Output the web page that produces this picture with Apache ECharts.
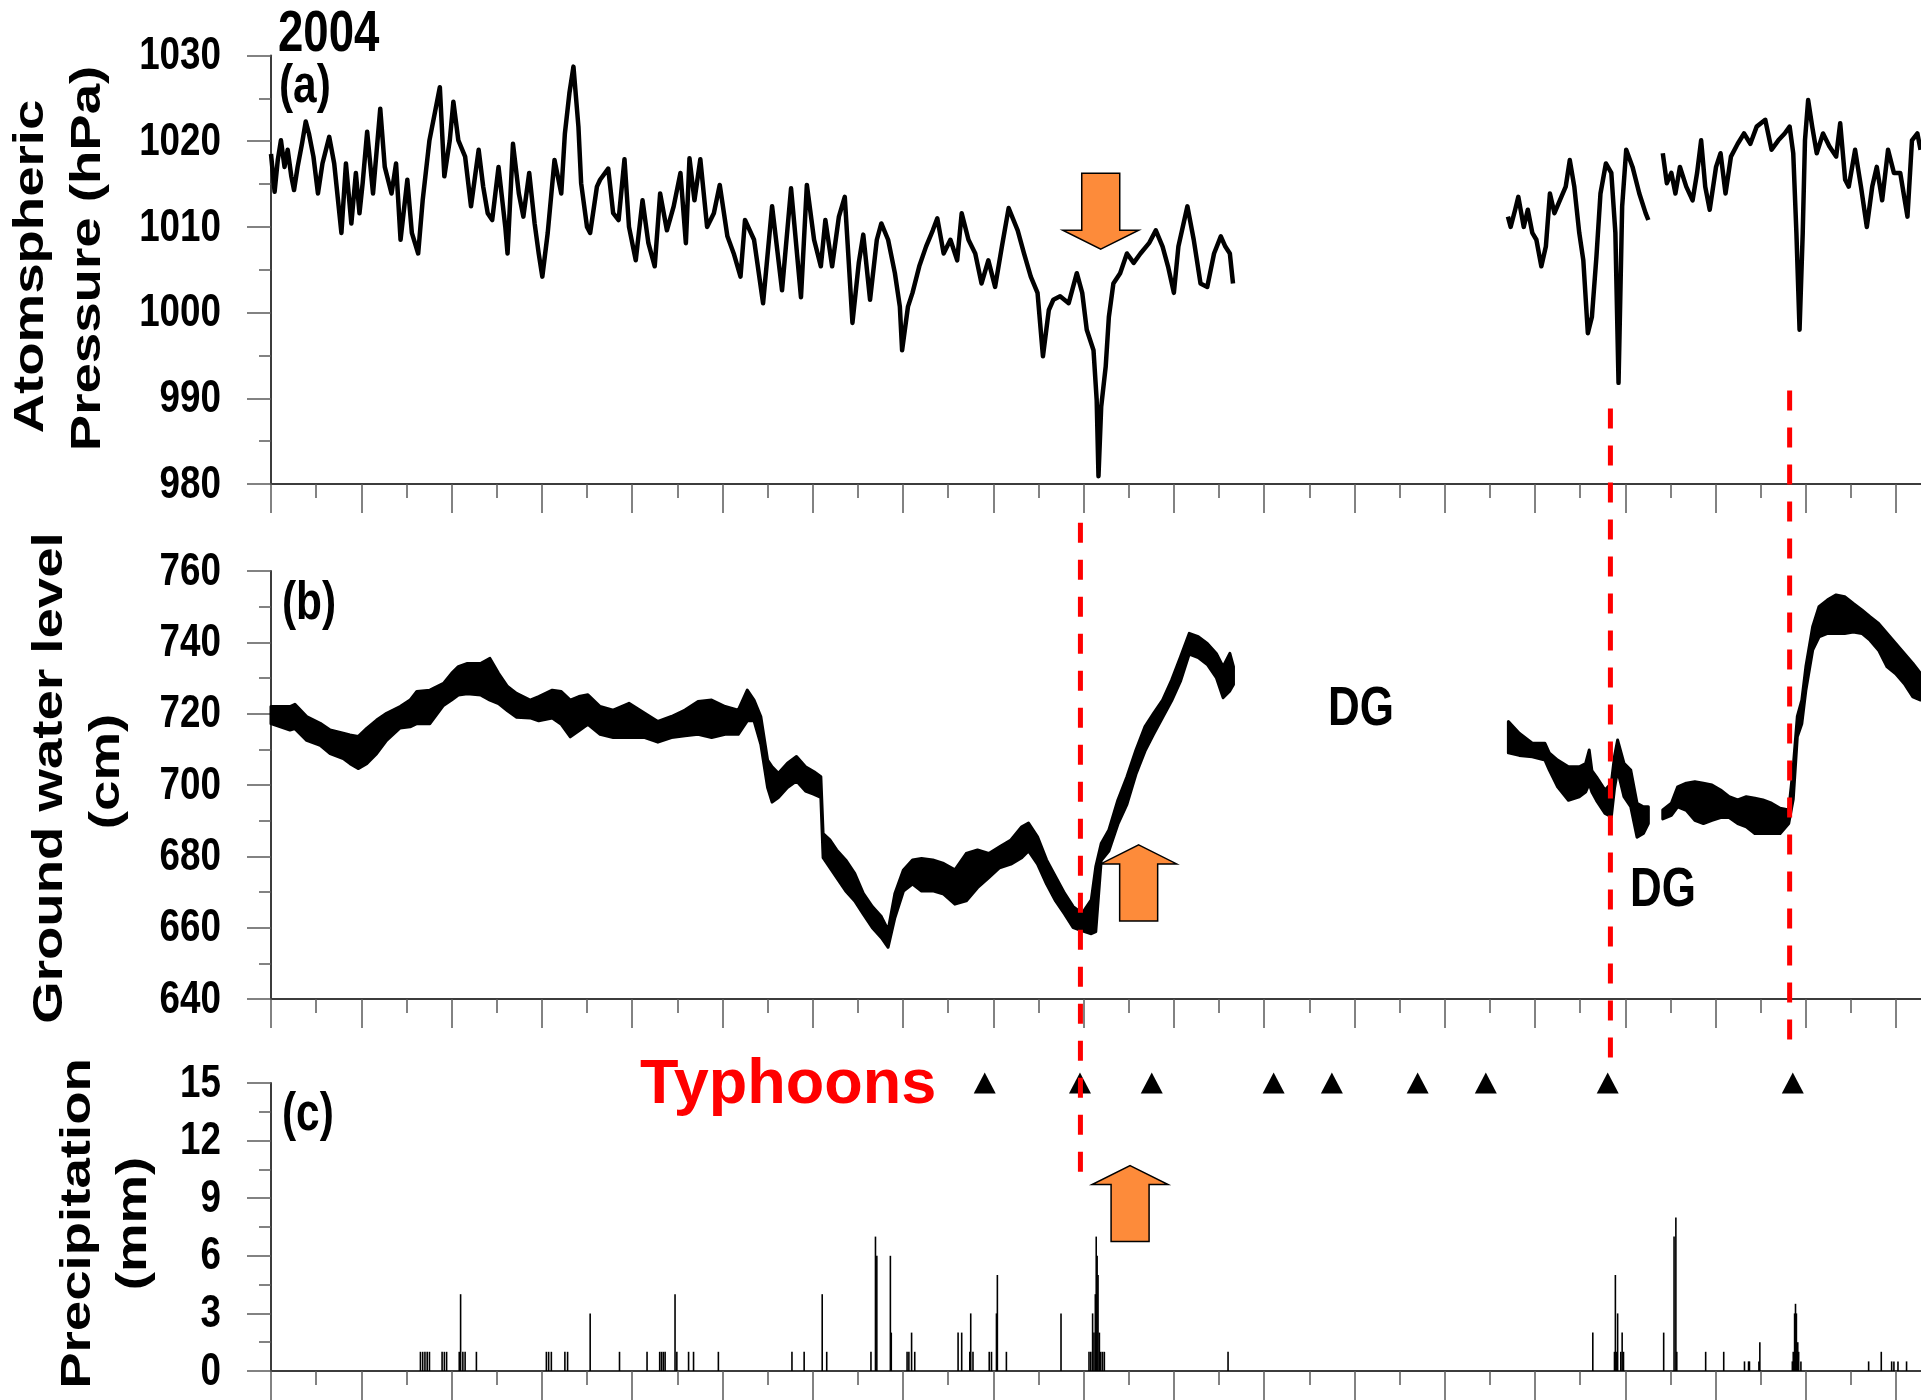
<!DOCTYPE html>
<html>
<head>
<meta charset="utf-8">
<script src="https://cdn.jsdelivr.net/npm/echarts@6/dist/echarts.min.js"></script>
<style>
  html, body { margin: 0; padding: 0; background: #ffffff; }
  #chart { width: 1921px; height: 1400px; }
</style>
</head>
<body>
<div id="chart"></div>
<script>
// ---- Atmospheric pressure (hPa): [day of 2004, value], three recorded stretches ----
const pressureA = [
  [0,1018.5],[0.8,1014.1],[1.5,1017.8],[2.2,1020.1],[3.0,1017.0],[3.7,1019.0],[4.5,1015.9],[5.1,1014.3],
  [5.9,1017.0],[6.9,1019.8],[7.7,1022.3],[8.4,1020.9],[9.4,1018.2],[10.4,1013.9],[11.4,1017.4],[12.9,1020.5],
  [14.0,1017.4],[15.6,1009.3],[16.6,1017.4],[17.8,1010.4],[18.8,1016.3],[19.6,1011.6],[20.3,1015.1],[21.3,1021.1],
  [22.6,1013.9],[24.2,1023.8],[25.2,1017.0],[26.7,1013.9],[27.7,1017.4],[28.7,1008.5],[30.2,1015.5],[31.2,1009.3],
  [32.6,1006.9],[33.6,1013.1],[35.1,1020.1],[36.4,1023.6],[37.4,1026.3],[38.4,1015.9],[39.6,1020.1],[40.4,1024.6],
  [41.5,1020.1],[43.0,1018.2],[44.3,1012.4],[46.0,1019.0],[47.0,1014.7],[48.0,1011.6],[49.0,1010.8],[50.4,1017.0],
  [51.9,1010.0],[52.4,1006.9],[53.6,1019.7],[54.9,1013.9],[55.9,1011.2],[57.2,1016.3],[58.4,1010.4],[59.3,1006.9],
  [60.1,1004.2],[61.3,1009.3],[62.8,1017.8],[64.3,1013.9],[65.1,1020.9],[66.1,1025.6],[67.0,1028.7],[68.1,1021.7],
  [68.7,1015.1],[70.0,1010.0],[70.7,1009.3],[72.2,1014.7],
  [72.9,1015.5],[74.7,1016.8],[75.8,1011.6],[77.0,1010.8],[78.3,1017.9],[79.3,1010.0],[80.8,1006.1],[82.3,1013.1],
  [83.6,1008.1],[85.0,1005.4],[86.2,1013.9],[87.7,1009.6],[89.2,1012.4],[90.7,1016.3],[91.9,1008.1],[92.7,1018.0],
  [93.8,1013.1],[95.1,1017.9],[96.6,1010.0],[98.1,1011.6],[99.4,1014.9],[101.1,1008.9],[102.5,1006.9],[104.0,1004.2],
  [105.0,1010.8],[107.0,1008.5],[109.0,1001.1],[111.0,1012.4],[113.2,1002.6],[115.2,1014.5],[117.4,1001.8],[118.7,1014.9],
  [120.3,1008.5],[121.8,1005.4],[122.8,1010.8],[124.3,1005.4],[125.8,1011.2],[127.1,1013.5],[128.8,998.8],[130.2,1005.8],
  [131.2,1009.1],[132.7,1001.5],[134.2,1008.5],[135.2,1010.4],[136.7,1008.5],[138.2,1004.6],[139.3,1000.7],[139.8,995.6],
  [141.1,1000.7],[142.1,1002.3],[143.6,1005.4],[145.1,1007.7],[146.6,1009.6],[147.6,1011.0],[149.0,1006.9],[150.5,1008.5],
  [152.0,1006.1],[153.0,1011.6],[154.5,1008.5],[156.0,1006.9],[157.4,1003.4],[158.9,1006.1],[160.4,1003.0],[161.9,1007.7],
  [163.4,1012.2],[165.4,1009.6],[166.8,1006.9],[168.3,1004.2],[169.8,1002.3],[171.0,994.9],[172.3,1000.3],[173.3,1001.5],
  [174.8,1001.9],[176.7,1001.1],[178.5,1004.6],[179.7,1002.3],[180.7,998.0],[182.2,995.6],[182.9,989.8],[183.3,980.9],
  [183.9,989.0],[184.9,993.7],[185.6,999.5],[186.6,1003.4],[188.1,1004.6],[189.6,1006.9],[191.1,1005.8],[192.6,1006.9],
  [194.5,1008.1],[196.0,1009.6],[197.5,1007.7],[198.7,1005.4],[200.0,1002.3],[201.0,1007.7],[203.0,1012.4],[204.4,1008.5],
  [205.9,1003.4],[207.4,1003.0],[208.9,1006.9],[210.4,1008.9],[211.4,1007.7],[212.4,1006.9],[213.1,1003.4]
];
const pressureB = [
  [274.0,1011.2],[274.6,1010.0],[275.6,1012.0],[276.3,1013.5],[277.5,1010.0],[278.4,1012.0],[279.4,1009.3],[280.3,1008.5],
  [281.4,1005.4],[282.4,1007.7],[283.3,1013.9],[284.3,1011.6],[285.5,1013.1],[286.8,1014.7],[287.7,1017.8],[288.7,1014.7],
  [289.8,1009.3],[290.7,1006.1],[291.7,997.6],[292.6,999.5],[293.6,1006.5],[294.5,1013.9],[295.7,1017.4],[296.9,1016.3],
  [297.8,1009.3],[298.5,991.8],[299.3,1012.4],[300.2,1019.0],[301.6,1017.0],[303.1,1013.9],[304.5,1011.6],[305.1,1010.8]
];
const pressureC = [
  [308.3,1018.6],[309.2,1015.1],[310.2,1016.3],[311.1,1013.9],[312.1,1017.0],[313.5,1014.7],[314.9,1013.1],[315.9,1016.3],
  [316.8,1020.1],[317.7,1014.7],[318.7,1012.0],[320.1,1017.0],[321.1,1018.6],[322.2,1013.9],[323.4,1018.2],[324.9,1019.7],
  [326.3,1020.9],[327.7,1019.7],[329.1,1021.7],[331.0,1022.5],[332.4,1019.0],[333.9,1020.1],[335.3,1020.9],[336.4,1021.7],
  [337.2,1018.6],[337.9,1009.3],[338.6,998.0],[339.3,1009.3],[339.8,1020.1],[340.5,1024.8],[341.4,1021.7],[342.4,1018.6],
  [343.8,1020.9],[345.2,1019.4],[346.7,1018.2],[347.6,1022.1],[348.7,1015.5],[349.5,1014.7],[350.9,1019.0],[352.2,1014.7],
  [353.5,1010.0],[354.7,1014.7],[355.7,1017.0],[356.9,1013.1],[358.2,1019.0],[359.5,1016.3],[360.9,1016.3],[362.5,1011.2],
  [363.5,1020.1],[364.7,1020.9],[365.4,1019.0]
];

// ---- Ground water level (cm): [day, upper edge of daily swing, lower edge of daily swing] ----
const groundwaterA = [
  [0,722.0,717.2],[4.2,722.0,715.4],[5.3,722.6,715.8],[7.9,719.2,712.5],[10.9,717.3,711.1],[13.1,715.4,708.8],
  [16.0,714.5,707.4],[17.5,714.0,706.0],[19.3,713.6,704.6],[21.2,715.9,706.0],[23.4,718.2,708.8],[25.6,720.1,712.5],
  [28.6,722.0,716.0],[30.8,723.8,716.3],[32.3,726.2,717.2],[35.2,726.6,717.2],[38.2,728.5,722.3],[40.0,731.3,723.8],
  [41.5,733.2,725.2],[43.5,734.1,725.6],[46.5,734.1,725.2],[48.5,735.5,723.8],[50.4,731.3,722.8],[52.4,727.6,720.8],
  [54.4,725.7,719.0],[57.4,723.8,718.8],[59.3,724.8,718.0],[62.3,726.6,718.8],[64.3,726.2,717.0],[66.3,723.8,713.5],
  [68.2,724.8,715.2],[70.2,725.3,717.0],[72.9,722.0,714.2],[75.8,721.0,713.3],[79.3,722.9,713.3],[82.8,720.1,713.3],
  [85.7,717.8,712.0],[88.7,719.2,713.3],[91.7,721.0,713.8],[94.6,723.4,714.2],[97.6,723.8,713.3],[100.6,722.0,714.2],
  [103.5,721.0,714.2],[105.5,726.6,718.0],[107.0,723.8,718.0],[108.5,719.2,711.4],[110.0,707.0,699.3],[111.0,705.1,695.2],
  [112.4,703.3,696.5],[114.4,706.1,699.3],[116.4,708.0,701.1],[118.4,705.1,698.3],[120.3,703.7,697.4],[121.8,702.3,696.5],
  [122.3,686.4,679.6],[123.8,684.6,676.8],[125.3,681.8,674.0],[127.3,679.0,670.3],[129.3,675.2,667.5],[131.2,669.6,663.8],
  [133.2,665.9,660.0],[135.2,663.1,657.2],[136.7,659.3,654.5],[138.2,669.6,662.8],[140.1,676.2,670.3],[142.1,679.0,672.2],
  [144.1,679.4,670.3],[146.6,679.0,670.3],[149.0,678.0,669.4],[151.5,676.2,666.6],[154.0,680.8,667.5],[156.5,681.8,671.2],
  [159.0,680.8,674.0],[161.4,682.7,676.8],[163.9,684.6,677.8],[166.3,688.3,679.6],[167.8,689.3,681.5],[169.8,685.5,677.8],
  [171.8,679.0,672.2],[173.8,674.3,667.5],[175.8,669.6,663.8],[177.7,665.9,660.0],[179.7,664.0,659.1],[181.7,667.8,658.3],
  [182.7,677.1,658.9],[183.9,683.6,678.8],[185.6,687.4,681.5],[187.6,695.8,689.0],[189.6,702.3,694.6],[191.6,709.8,703.0],
  [193.6,716.4,709.5],[195.5,720.1,714.2],[197.5,723.8,718.9],[199.5,729.4,723.6],[201.5,736.0,729.2],[203.4,742.5,736.7],
  [205.4,741.6,735.7],[207.4,739.7,733.8],[209.4,736.9,730.1],[210.9,733.2,724.5],[212.4,736.9,726.4],[213.2,733.2,728.2]
];
const groundwaterB = [
  [274.1,717.8,709.0],[276.5,714.5,708.3],[279.4,711.7,707.9],[282.2,711.7,707.0],[283.2,708.9,704.1],[285.0,707.0,699.5],
  [287.4,705.1,695.7],[289.8,705.1,696.7],[291.2,706.0,698.0],[292.0,709.8,700.4],[292.6,704.0,698.0],[293.6,702.3,695.7],
  [295.5,698.6,692.0],[296.9,700.5,691.1],[297.6,708.0,699.0],[298.3,712.6,704.1],[299.7,706.1,696.7],[301.2,704.2,693.9],
  [302.6,694.9,685.4],[304.0,693.9,686.4],[305.1,693.9,689.2]
];
const groundwaterC = [
  [308.3,693.0,690.5],[310.2,694.9,691.5],[311.6,699.5,693.9],[313.5,700.5,692.9],[315.4,700.9,690.1],[317.3,700.5,689.2],
  [319.2,700.0,690.1],[321.1,698.6,690.9],[323.0,696.7,690.9],[324.9,695.8,689.2],[326.8,696.7,688.3],[328.7,696.3,686.4],
  [330.5,695.8,686.4],[332.4,694.9,686.4],[334.3,693.5,686.4],[336.2,693.0,689.2],[337.2,705.1,696.0],[338.1,719.2,713.5],
  [339.1,723.8,717.2],[340.0,733.2,726.6],[341.5,744.4,737.8],[342.9,750.0,741.5],[344.8,751.9,742.5],[346.7,753.3,742.5],
  [348.6,752.8,742.5],[350.5,750.9,742.9],[352.4,749.1,742.5],[354.2,747.2,740.6],[356.1,745.3,737.8],[358.0,742.5,733.1],
  [359.9,739.7,731.2],[361.8,736.9,728.4],[363.7,734.1,724.7],[365.4,731.3,723.8]
];

// ---- Precipitation (mm): [day, amount] ----
const precipitation = [
  [33.1,1],[33.6,1],[34.1,1],[34.6,1],[35.1,1],[37.9,1],[38.4,1],[38.9,1],[41.7,1],[42.0,4],[42.5,1],[43.0,1],
  [45.5,1],[61.0,1],[61.5,1],[62.1,1],[65.1,1],[65.7,1],[70.7,3],[77.2,1],[83.3,1],[86.1,1],[86.5,1],[86.9,1],
  [87.3,1],[89.5,4],[89.9,1],[92.5,1],[93.6,1],[99.1,1],[115.4,1],[118.1,1],[122.1,4],[123.1,1],[132.9,1],[133.9,7],
  [134.2,6],[137.2,6],[137.4,2],[140.9,1],[141.3,1],[141.9,2],[142.6,1],[152.2,2],[153.0,2],[154.8,1],[155.0,3],
  [155.5,1],[159.1,1],[159.6,1],[160.7,3],[160.9,5],[162.9,1],[175.0,3],[181.2,1],[181.6,1],[182.0,3],[182.3,2],
  [182.6,4],[182.8,7],[183.0,6],[183.2,5],[183.5,2],[183.8,1],[184.2,1],[184.6,1],[212.0,1],[292.8,2],[297.6,1],
  [297.8,5],[298.0,1],[298.3,3],[299.0,1],[299.3,2],[299.6,1],[308.5,2],[310.8,7],[311.2,8],[311.4,1],[317.8,1],
  [321.8,1],[326.4,0.5],[327.3,0.5],[327.5,0.5],[329.6,0.5],[329.8,1.5],[337.0,0.5],[337.2,1],[337.5,3],[337.7,3.5],
  [337.9,3],[338.2,1.5],[338.4,1],[338.9,0.5],[353.9,0.5],[356.7,1],[359.0,0.5],[359.5,0.5],[360.4,0.5],[362.3,0.5]
];

// ---- Typhoon passages (day of year) ----
const typhoonDays = [158.1, 179.2, 195.1, 222.1, 235.0, 254.0, 269.1, 296.1, 337.1];

// Dashed markers: [day, panel of upper end, value there, value of lower end in panel (c)]
const typhoonMarkers = [[179.3, 1, 773.5, 10.2], [296.7, 0, 988.8, 16.1], [336.4, 0, 990.9, 17.1]];

// Arrows: [panel, day of tip, value of tip, direction]
const arrows = [[0, 183.8, 1007.4, 'down'], [1, 192.2, 683.2, 'up'], [2, 190.3, 10.7, 'up']];

// Value axes of the three panels; their tick labels are written at these steps
const panelAxes = [
  { min: 980, max: 1030, interval: 10 },
  { min: 640, max: 760, interval: 20 },
  { min: 0, max: 15, interval: 3 }
];
const dayMax = 365.5;
const dayTicks = [0, 20, 40, 60, 80, 100, 120, 140, 160, 180, 200, 220, 240, 260, 280, 300, 320, 340, 360];

const chart = echarts.init(document.getElementById('chart'), null, { renderer: 'canvas' });

const sans = "'Liberation Sans', Arial, Helvetica, sans-serif";
const axisGrey = '#3c3c3c';
const tickGrey = '#5a5a5a';

const grids = [
  { left: 271, top: 55.5, right: 0, height: 428.5, outerBoundsMode: 'none' },
  { left: 271, top: 571, right: 0, height: 428, outerBoundsMode: 'none' },
  { left: 271, top: 1083, right: 0, height: 288, outerBoundsMode: 'none' }
];

const xAxes = grids.map((g, i) => ({
  type: 'value', gridIndex: i, min: 0, max: dayMax, interval: 20,
  axisLine: { show: true, onZero: false, lineStyle: { color: axisGrey, width: 2 } },
  axisTick: { show: true, inside: false, length: 29, customValues: dayTicks, lineStyle: { color: tickGrey, width: 1.5 } },
  minorTick: { show: true, splitNumber: 2, length: 14, lineStyle: { color: tickGrey, width: 1.5 } },
  axisLabel: { show: false },
  splitLine: { show: false }
}));

const yAxes = panelAxes.map((a, i) => ({
  type: 'value', gridIndex: i, min: a.min, max: a.max, interval: a.interval,
  axisLine: { show: true, lineStyle: { color: axisGrey, width: 2 } },
  axisTick: { show: true, inside: false, length: 24, lineStyle: { color: tickGrey, width: 1.5 } },
  minorTick: { show: true, splitNumber: 2, length: 12, lineStyle: { color: tickGrey, width: 1.5 } },
  axisLabel: { show: false },
  splitLine: { show: false }
}));

function pressureLine(data) {
  return {
    type: 'line', xAxisIndex: 0, yAxisIndex: 0, data: data, showSymbol: false, symbol: 'none',
    lineStyle: { color: '#000', width: 4.5, join: 'round' }, silent: true, animation: false, z: 3
  };
}

function band(data) {
  return {
    type: 'custom', xAxisIndex: 1, yAxisIndex: 1, data: data, silent: true, animation: false, z: 3,
    encode: { x: 0, y: 1 },
    renderItem: function (params, api) {
      if (params.dataIndex !== 0) return null;
      const upper = data.map(p => api.coord([p[0], p[1]]));
      const lower = data.slice().reverse().map(p => api.coord([p[0], p[2]]));
      return {
        type: 'polygon',
        shape: { points: upper.concat(lower) },
        style: { fill: '#000', stroke: '#000', lineWidth: 3, lineJoin: 'round' }
      };
    }
  };
}

chart.setOption({
  animation: false,
  backgroundColor: '#ffffff',
  grid: grids,
  xAxis: xAxes,
  yAxis: yAxes,
  series: [
    pressureLine(pressureA), pressureLine(pressureB), pressureLine(pressureC),
    band(groundwaterA), band(groundwaterB), band(groundwaterC),
    {
      type: 'bar', xAxisIndex: 2, yAxisIndex: 2, data: precipitation, barWidth: 1.6,
      itemStyle: { color: '#000' }, silent: true, animation: false, z: 3
    },
    {
      type: 'scatter', xAxisIndex: 2, yAxisIndex: 2, data: typhoonDays.map(d => [d, 15]),
      symbol: 'triangle', symbolSize: [22, 21], itemStyle: { color: '#000', opacity: 1 }, clip: false,
      silent: true, animation: false, z: 4
    }
  ]
});

// Annotations placed through the axes' own coordinate systems
const px = (panel, x, y) => chart.convertToPixel({ xAxisIndex: panel, yAxisIndex: panel }, [x, y]);
const graphics = [];

// Tick labels: condensed bold numerals at each axis step
panelAxes.forEach((a, i) => {
  for (let v = a.min; v <= a.max + 1e-9; v += a.interval) {
    const p = px(i, 0, v);
    graphics.push({
      type: 'text', x: p[0] - 50, y: p[1] + 1, scaleX: 0.8, z: 40, silent: true,
      style: { text: String(v), font: 'bold 46px ' + sans, fill: '#000', align: 'right', verticalAlign: 'middle' }
    });
  }
});

typhoonMarkers.forEach(m => {
  const top = px(m[1], m[0], m[2]);
  const bottom = px(2, m[0], m[3]);
  graphics.push({
    type: 'line', z: 20, silent: true,
    shape: { x1: top[0], y1: top[1], x2: bottom[0], y2: bottom[1] },
    style: { stroke: '#ff0000', lineWidth: 5, lineDash: [20, 17] }
  });
});

arrows.forEach(a => {
  const tip = px(a[0], a[1], a[2]);
  const s = a[3] === 'down' ? -1 : 1;
  const pts = [[0, 0], [38, 19], [19, 19], [19, 76], [-19, 76], [-19, 19], [-38, 19]]
    .map(p => [tip[0] + p[0], tip[1] + s * p[1]]);
  graphics.push({
    type: 'polygon', z: 30, silent: true,
    shape: { points: pts },
    style: { fill: '#fd8b3a', stroke: '#000', lineWidth: 1.5, lineJoin: 'miter' }
  });
});

// Axis titles, stretched along their baseline
const titles = [
  ['Atomspheric', 31.5, 266.5], ['Pressure (hPa)', 88.5, 258.5],
  ['Ground water level', 50.5, 778], ['(cm)', 107.5, 771.5],
  ['Precipitation', 78.5, 1223.5], ['(mm)', 134.5, 1223.5]
];
titles.forEach(t => {
  graphics.push({
    type: 'text', x: t[1], y: t[2], rotation: Math.PI / 2, scaleX: 1.3, z: 40, silent: true,
    style: { text: t[0], font: 'bold 42px ' + sans, fill: '#000', align: 'center', verticalAlign: 'middle' }
  });
});

// Panel tags and gap labels, condensed
const labels = [
  ['2004', 278, 35, 57], ['(a)', 279, 87.5, 53], ['(b)', 282, 604, 53], ['(c)', 282, 1115, 53],
  ['DG', 1328, 710, 55], ['DG', 1630, 891, 55]
];
labels.forEach(t => {
  graphics.push({
    type: 'text', x: t[1], y: t[2], scaleX: 0.8, z: 40, silent: true,
    style: { text: t[0], font: 'bold ' + t[3] + 'px ' + sans, fill: '#000', align: 'left', verticalAlign: 'middle' }
  });
});
graphics.push({
  type: 'text', x: 640, y: 1086, z: 40, silent: true,
  style: { text: 'Typhoons', font: 'bold 63px ' + sans, fill: '#ff0000', align: 'left', verticalAlign: 'middle' }
});

chart.setOption({ graphic: graphics });
</script>
</body>
</html>
